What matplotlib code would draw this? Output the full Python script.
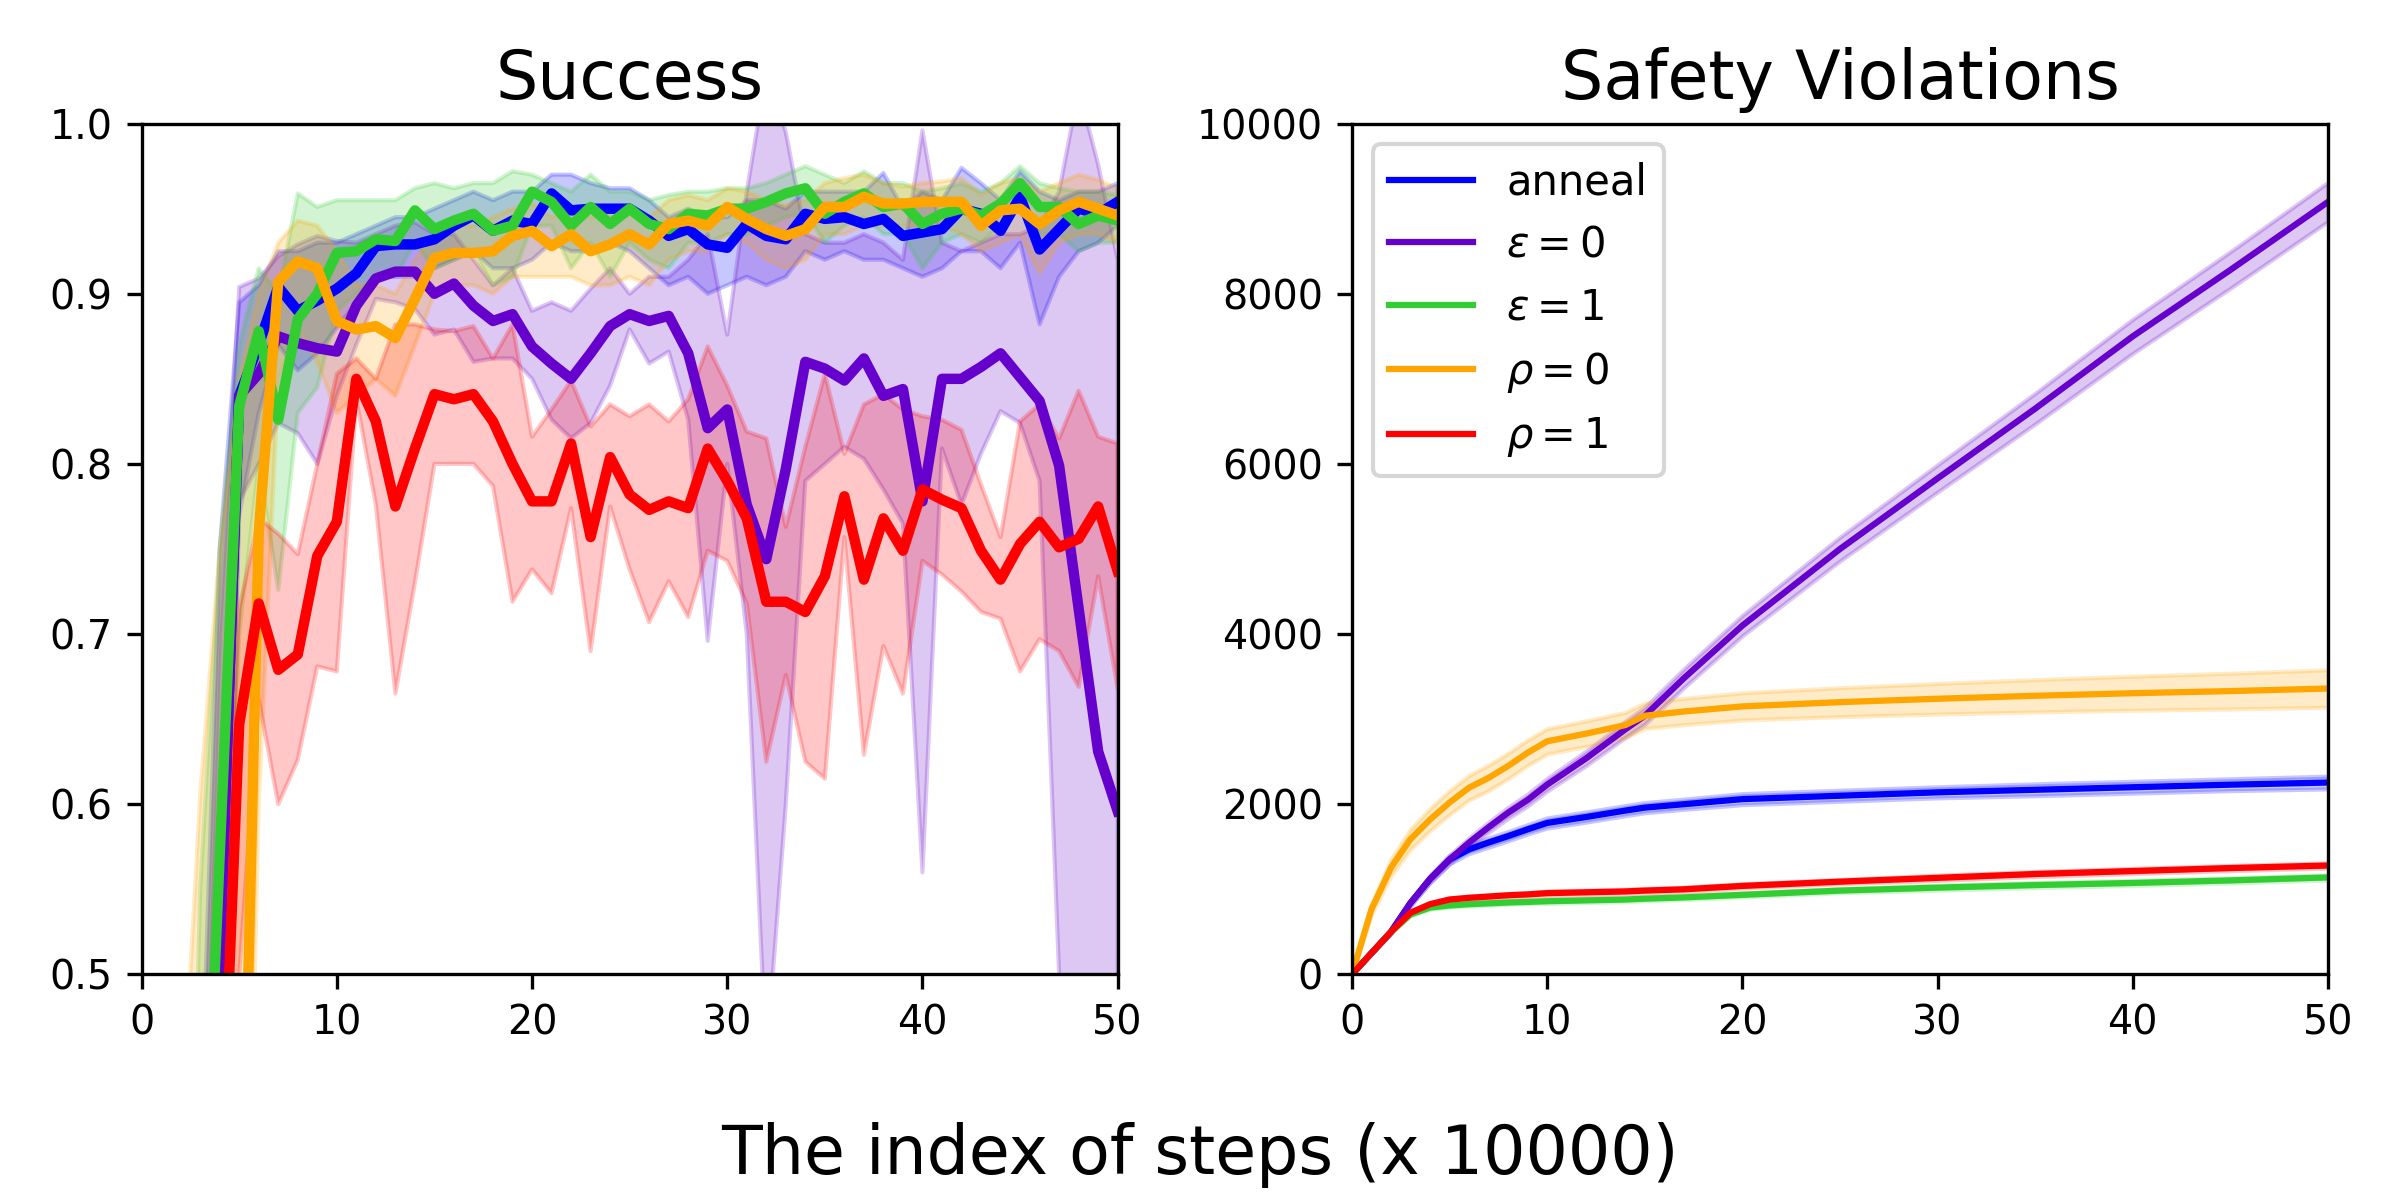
import numpy as np
import matplotlib
matplotlib.use("Agg")
import matplotlib.pyplot as plt

# ---------------- Success panel data (x = 0..50) ----------------
x_succ = list(range(51))

anneal_mean = [0.0, 0.0, 0.05, 0.2, 0.51, 0.84, 0.87, 0.904, 0.89, 0.896, 0.903, 0.912, 0.928, 0.929, 0.929, 0.932, 0.94, 0.946,
               0.937, 0.943, 0.941, 0.959, 0.949, 0.95, 0.95, 0.95, 0.943, 0.934, 0.938, 0.929, 0.927, 0.941, 0.934, 0.932,
               0.947, 0.944, 0.945, 0.941, 0.944, 0.934, 0.936, 0.938, 0.95, 0.947, 0.937, 0.957, 0.926, 0.938, 0.95, 0.947, 0.954]
anneal_up = [0.0, 0.0, 0.1, 0.4, 0.75, 0.895, 0.905, 0.925, 0.925, 0.93, 0.93, 0.935, 0.94, 0.945, 0.945, 0.95, 0.955, 0.96,
             0.955, 0.96, 0.96, 0.97, 0.97, 0.965, 0.962, 0.962, 0.955, 0.945, 0.95, 0.945, 0.945, 0.955, 0.955, 0.95,
             0.96, 0.96, 0.96, 0.96, 0.971, 0.95, 0.96, 0.955, 0.974, 0.965, 0.955, 0.972, 0.96, 0.955, 0.96, 0.96, 0.965]
anneal_lo = [0.0, 0.0, 0.0, 0.1, 0.35, 0.77, 0.83, 0.87, 0.855, 0.865, 0.88, 0.895, 0.91, 0.91, 0.91, 0.915, 0.92, 0.925,
             0.915, 0.915, 0.92, 0.93, 0.925, 0.925, 0.93, 0.925, 0.915, 0.905, 0.91, 0.9, 0.905, 0.91, 0.905, 0.91,
             0.925, 0.92, 0.925, 0.92, 0.92, 0.915, 0.91, 0.915, 0.925, 0.925, 0.915, 0.93, 0.882, 0.91, 0.925, 0.93, 0.94]

eps0_mean = [0.0, 0.0, 0.05, 0.2, 0.51, 0.84, 0.853, 0.875, 0.871, 0.868, 0.866, 0.893, 0.909, 0.913, 0.913, 0.90, 0.906, 0.893,
             0.884, 0.888, 0.869, 0.859, 0.85, 0.865, 0.881, 0.888, 0.884, 0.887, 0.865, 0.821, 0.832, 0.776, 0.744, 0.797,
             0.86, 0.856, 0.849, 0.862, 0.84, 0.844, 0.778, 0.85, 0.85, 0.857, 0.865, 0.851, 0.837, 0.799, 0.715, 0.631, 0.596]
eps0_up = [0.0, 0.0, 0.1, 0.35, 0.7, 0.904, 0.909, 0.922, 0.929, 0.934, 0.931, 0.93, 0.935, 0.94, 0.942, 0.935, 0.935, 0.92,
           0.905, 0.915, 0.89, 0.895, 0.89, 0.903, 0.915, 0.90, 0.91, 0.91, 0.92, 0.935, 0.876, 0.96, 1.03, 0.995,
           0.935, 0.93, 0.93, 0.935, 0.93, 0.92, 0.996, 0.93, 0.925, 0.93, 0.935, 0.935, 0.94, 0.96, 1.02, 0.976, 0.92]
eps0_lo = [0.0, 0.0, 0.0, 0.1, 0.35, 0.778, 0.80, 0.824, 0.818, 0.80, 0.84, 0.87, 0.897, 0.895, 0.891, 0.876, 0.879, 0.86,
           0.862, 0.862, 0.85, 0.826, 0.815, 0.824, 0.846, 0.879, 0.859, 0.866, 0.826, 0.696, 0.80, 0.70, 0.45, 0.60,
           0.79, 0.80, 0.81, 0.803, 0.785, 0.765, 0.56, 0.809, 0.776, 0.806, 0.831, 0.824, 0.79, 0.50, 0.40, 0.42, 0.45]

eps1_mean = [0.0, 0.0, 0.05, 0.3, 0.57, 0.834, 0.878, 0.826, 0.885, 0.90, 0.924, 0.925, 0.932, 0.931, 0.949, 0.938, 0.943, 0.947,
             0.937, 0.94, 0.96, 0.954, 0.94, 0.951, 0.941, 0.95, 0.941, 0.938, 0.947, 0.946, 0.95, 0.95, 0.954, 0.959,
             0.962, 0.947, 0.954, 0.959, 0.951, 0.953, 0.941, 0.947, 0.95, 0.946, 0.953, 0.965, 0.951, 0.951, 0.941, 0.946, 0.943]
eps1_up = [0.0, 0.0, 0.1, 0.55, 0.75, 0.87, 0.915, 0.90, 0.959, 0.951, 0.955, 0.955, 0.955, 0.955, 0.962, 0.965, 0.962, 0.965,
           0.965, 0.972, 0.97, 0.965, 0.96, 0.97, 0.96, 0.96, 0.955, 0.958, 0.96, 0.96, 0.962, 0.962, 0.965, 0.97,
           0.975, 0.97, 0.965, 0.972, 0.965, 0.965, 0.96, 0.962, 0.965, 0.96, 0.965, 0.975, 0.965, 0.962, 0.96, 0.96, 0.958]
eps1_lo = [0.0, 0.0, 0.0, 0.1, 0.35, 0.70, 0.80, 0.726, 0.83, 0.845, 0.89, 0.90, 0.91, 0.91, 0.93, 0.915, 0.92, 0.925,
           0.905, 0.91, 0.94, 0.94, 0.915, 0.93, 0.91, 0.93, 0.92, 0.915, 0.93, 0.93, 0.935, 0.935, 0.94, 0.945,
           0.948, 0.93, 0.94, 0.945, 0.935, 0.935, 0.915, 0.93, 0.935, 0.93, 0.94, 0.955, 0.935, 0.935, 0.925, 0.93, 0.93]

rho0_mean = [0.0, 0.0, 0.0, 0.05, 0.1, 0.27, 0.76, 0.907, 0.919, 0.915, 0.884, 0.879, 0.881, 0.874, 0.897, 0.921, 0.924, 0.924,
             0.925, 0.934, 0.937, 0.928, 0.935, 0.925, 0.929, 0.935, 0.929, 0.941, 0.943, 0.94, 0.951, 0.944, 0.938, 0.934,
             0.938, 0.951, 0.951, 0.957, 0.953, 0.953, 0.954, 0.954, 0.954, 0.94, 0.949, 0.95, 0.941, 0.949, 0.954, 0.95, 0.946]
rho0_up = [0.0, 0.0, 0.4, 0.605, 0.75, 0.85, 0.90, 0.93, 0.943, 0.94, 0.925, 0.905, 0.905, 0.90, 0.92, 0.935, 0.94, 0.94,
           0.945, 0.95, 0.953, 0.945, 0.95, 0.945, 0.948, 0.95, 0.945, 0.955, 0.958, 0.955, 0.962, 0.96, 0.955, 0.952,
           0.955, 0.965, 0.968, 0.97, 0.965, 0.963, 0.965, 0.966, 0.968, 0.958, 0.965, 0.968, 0.96, 0.965, 0.97, 0.967, 0.962]
rho0_lo = [0.0, 0.0, 0.0, 0.0, 0.0, 0.1, 0.60, 0.85, 0.88, 0.86, 0.83, 0.84, 0.85, 0.84, 0.87, 0.90, 0.905, 0.905,
           0.90, 0.91, 0.91, 0.91, 0.91, 0.905, 0.905, 0.91, 0.905, 0.92, 0.925, 0.925, 0.935, 0.93, 0.92, 0.915,
           0.92, 0.935, 0.935, 0.94, 0.94, 0.94, 0.94, 0.94, 0.935, 0.925, 0.93, 0.935, 0.912, 0.93, 0.935, 0.935, 0.93]

rho1_mean = [0.0, 0.0, 0.0, 0.1, 0.36, 0.647, 0.718, 0.679, 0.688, 0.746, 0.766, 0.85, 0.825, 0.775, 0.809, 0.841, 0.838, 0.841,
             0.825, 0.80, 0.778, 0.778, 0.812, 0.757, 0.804, 0.782, 0.773, 0.778, 0.774, 0.809, 0.79, 0.768, 0.719, 0.719,
             0.713, 0.734, 0.781, 0.732, 0.768, 0.749, 0.785, 0.779, 0.774, 0.749, 0.732, 0.753, 0.766, 0.751, 0.756, 0.775, 0.737]
rho1_up = [0.0, 0.0, 0.0, 0.2, 0.45, 0.715, 0.768, 0.759, 0.747, 0.80, 0.853, 0.862, 0.85, 0.882, 0.882, 0.879, 0.878, 0.881,
           0.862, 0.882, 0.816, 0.832, 0.849, 0.822, 0.835, 0.828, 0.835, 0.825, 0.838, 0.869, 0.846, 0.819, 0.815, 0.763,
           0.81, 0.853, 0.806, 0.835, 0.841, 0.832, 0.828, 0.826, 0.82, 0.788, 0.757, 0.825, 0.835, 0.815, 0.843, 0.816, 0.812]
rho1_lo = [0.0, 0.0, 0.0, 0.0, 0.2, 0.50, 0.662, 0.60, 0.626, 0.681, 0.678, 0.838, 0.776, 0.665, 0.73, 0.80, 0.80, 0.80,
           0.787, 0.719, 0.738, 0.724, 0.774, 0.69, 0.775, 0.738, 0.707, 0.731, 0.71, 0.749, 0.743, 0.718, 0.625, 0.676,
           0.625, 0.615, 0.757, 0.629, 0.693, 0.665, 0.743, 0.735, 0.725, 0.713, 0.709, 0.678, 0.697, 0.69, 0.669, 0.734, 0.668]

# ---------------- Safety Violations panel data ----------------
x_viol = [0, 1, 2, 3, 4, 5, 6, 7, 8, 9, 10, 12, 14, 15, 17, 20, 25, 30, 35, 40, 45, 50]
anneal_v = [0, 250, 500, 840, 1120, 1350, 1470, 1550, 1625, 1705, 1780, 1850, 1925, 1960, 2000, 2060, 2100, 2140, 2170, 2200, 2230, 2255]
anneal_s = [0, 10, 20, 30, 40, 50, 50, 55, 55, 55, 60, 60, 60, 60, 60, 65, 65, 65, 70, 70, 70, 75]
eps0_v = [0, 250, 500, 840, 1120, 1350, 1550, 1730, 1900, 2050, 2230, 2540, 2880, 3040, 3480, 4100, 5000, 5830, 6650, 7500, 8280, 9080]
eps0_s = [0, 10, 20, 30, 40, 50, 55, 60, 65, 70, 75, 85, 95, 100, 110, 120, 140, 160, 180, 200, 215, 230]
eps1_v = [0, 250, 500, 705, 785, 810, 825, 835, 845, 852, 860, 870, 880, 890, 905, 935, 985, 1020, 1050, 1075, 1105, 1140]
eps1_s = [0, 5, 10, 15, 20, 20, 20, 20, 20, 20, 25, 25, 25, 25, 25, 25, 25, 30, 30, 30, 30, 30]
rho0_v = [0, 765, 1255, 1590, 1820, 2020, 2195, 2310, 2450, 2605, 2740, 2830, 2930, 3040, 3090, 3150, 3200, 3240, 3275, 3305, 3330, 3360]
rho0_s = [0, 60, 100, 120, 130, 140, 145, 150, 150, 150, 150, 150, 150, 150, 155, 160, 170, 180, 190, 200, 210, 220]
rho1_v = [0, 250, 500, 725, 825, 880, 900, 915, 930, 940, 955, 965, 975, 985, 1000, 1040, 1090, 1135, 1180, 1215, 1250, 1280]
rho1_s = [0, 5, 10, 15, 20, 20, 20, 20, 20, 20, 25, 25, 25, 25, 25, 25, 25, 30, 30, 30, 30, 30]

labels = ["anneal", r"$\epsilon=0$", r"$\epsilon=1$", r"$\rho=0$", r"$\rho=1$"]
colors = ["#0000FF", "#6600CC", "#32CD32", "#FFA500", "#FF0000"]

fig = plt.figure(figsize=(8, 4), dpi=300)
fig.subplots_adjust(left=0.059, right=0.970, bottom=0.188, top=0.897, wspace=0.240)
ax1 = fig.add_subplot(1, 2, 1)
ax2 = fig.add_subplot(1, 2, 2)

succ = [(anneal_mean, anneal_lo, anneal_up), (eps0_mean, eps0_lo, eps0_up), (eps1_mean, eps1_lo, eps1_up),
        (rho0_mean, rho0_lo, rho0_up), (rho1_mean, rho1_lo, rho1_up)]
for (m, lo, up), c in zip(succ, colors):
    ax1.fill_between(x_succ, lo, up, color=c, alpha=0.22)
for (m, lo, up), c, lab in zip(succ, colors, labels):
    ax1.plot(x_succ, m, color=c, lw=2.5, label=lab)
ax1.set_xlim(0, 50)
ax1.set_ylim(0.5, 1.0)
ax1.set_xticks([0, 10, 20, 30, 40, 50])
ax1.set_yticks([0.5, 0.6, 0.7, 0.8, 0.9, 1.0])
ax1.set_title("Success", fontsize=16)

viol = [(anneal_v, anneal_s), (eps0_v, eps0_s), (eps1_v, eps1_s), (rho0_v, rho0_s), (rho1_v, rho1_s)]
for (v, s), c in zip(viol, colors):
    v = np.array(v, float); s = np.array(s, float)
    ax2.fill_between(x_viol, v - s, v + s, color=c, alpha=0.22)
for (v, s), c, lab in zip(viol, colors, labels):
    ax2.plot(x_viol, v, color=c, lw=1.5, label=lab)
ax2.set_xlim(0, 50)
ax2.set_ylim(0, 10000)
ax2.set_xticks([0, 10, 20, 30, 40, 50])
ax2.set_yticks([0, 2000, 4000, 6000, 8000, 10000])
ax2.set_title("Safety Violations", fontsize=16)
ax2.legend(loc="upper left", fontsize=10)

for ax in (ax1, ax2):
    ax.tick_params(labelsize=9.5)

fig.supxlabel("The index of steps (x 10000)", fontsize=16, y=0.01)
fig.savefig("out.png", dpi=300)
